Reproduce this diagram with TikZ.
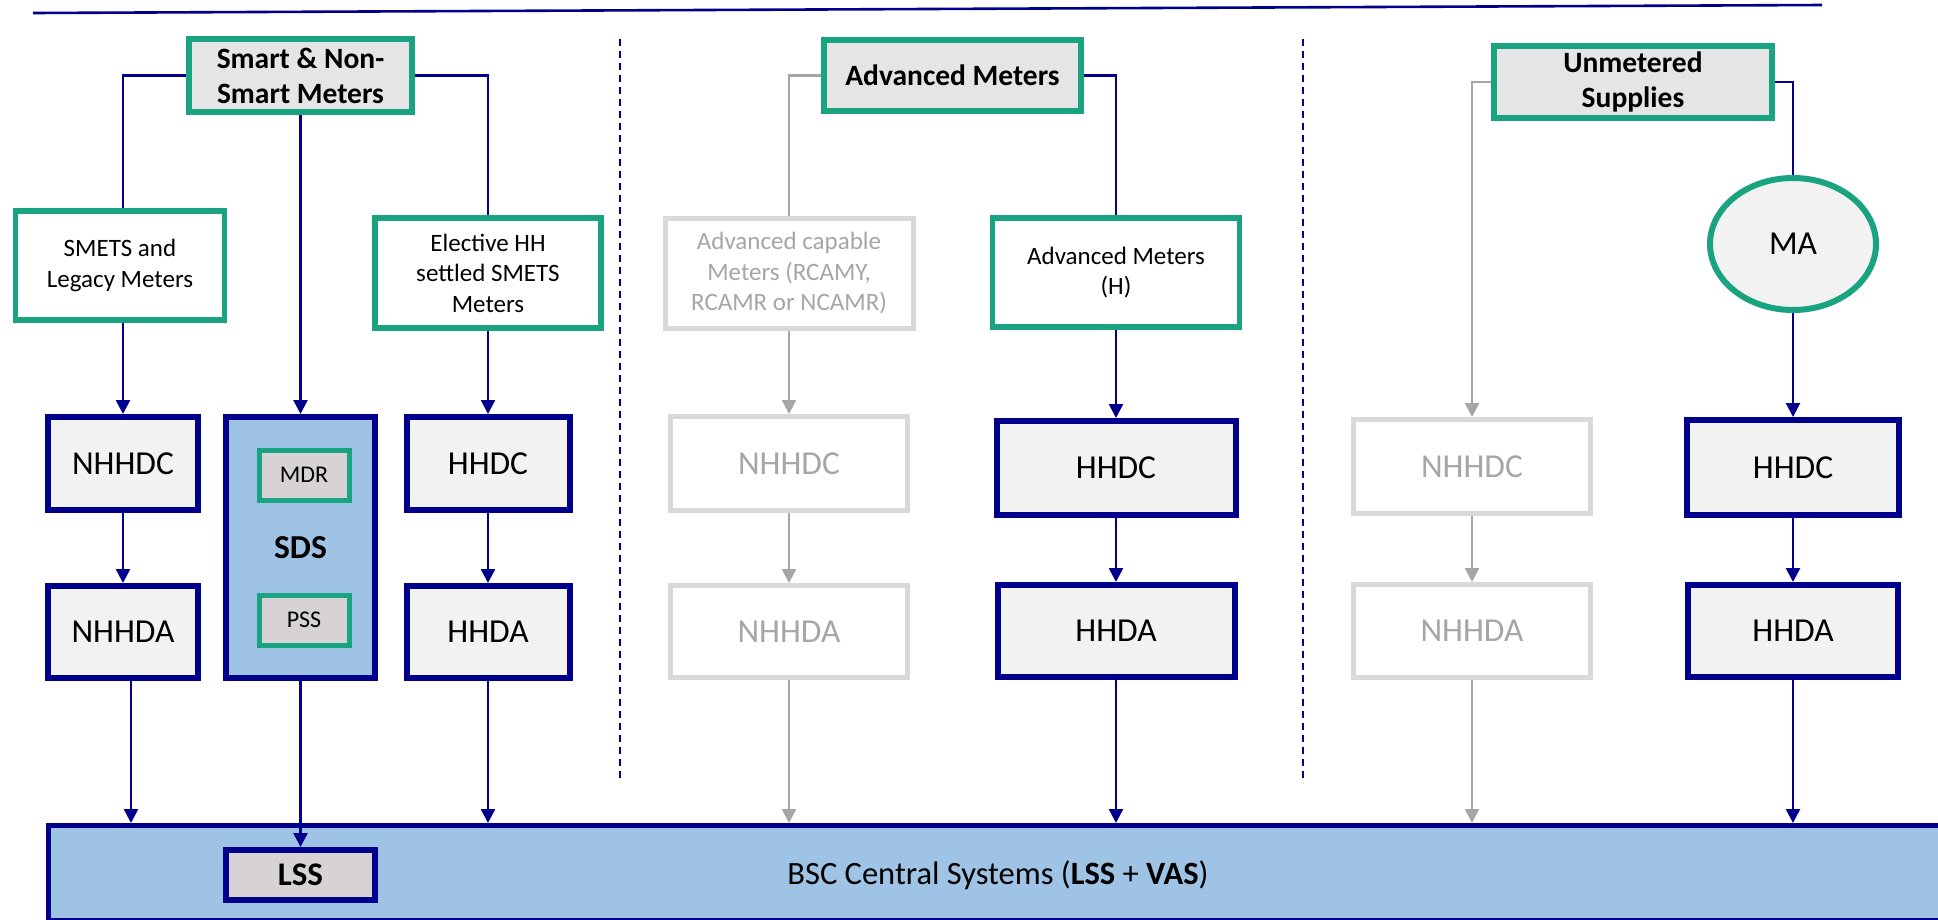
\documentclass[tikz,border=0pt]{standalone}
\usepackage{fontspec}
\setmainfont{Carlito}
\usetikzlibrary{arrows.meta,shapes.geometric}
\definecolor{navyc}{RGB}{0,0,140}
\definecolor{greenc}{RGB}{26,163,128}
\definecolor{boxfill}{RGB}{242,242,242}
\definecolor{titlefill}{RGB}{229,229,229}
\definecolor{subfill}{RGB}{214,210,214}
\definecolor{bluefill}{RGB}{159,195,228}
\definecolor{greyline}{RGB}{166,166,166}
\definecolor{greybox}{RGB}{217,217,217}
\definecolor{greytext}{RGB}{166,166,166}
\begin{document}
\begin{tikzpicture}[x=1pt,y=-1pt,
  title/.style={draw=greenc, line width=6pt, fill=titlefill, font=\fontsize{29.5}{35}\selectfont\bfseries, align=center, inner sep=0pt},
  meter/.style={draw=greenc, line width=5.5pt, fill=white, font=\fontsize{25}{30.5}\selectfont, align=center, inner sep=0pt},
  greymeter/.style={draw=greybox, line width=5pt, fill=white, text=greytext, font=\fontsize{25}{30.5}\selectfont, align=center, inner sep=0pt},
  agent/.style={draw=navyc, line width=6pt, fill=boxfill, font=\fontsize{33.5}{40}\selectfont, inner sep=0pt},
  greyagent/.style={draw=greybox, line width=5pt, fill=white, text=greytext, font=\fontsize{33.5}{40}\selectfont, inner sep=0pt},
  subbox/.style={draw=greenc, line width=5pt, fill=subfill, font=\fontsize{24}{29}\selectfont, inner sep=0pt},
  conn/.style={draw=navyc, line width=2.5pt},
  gconn/.style={draw=greyline, line width=2.5pt},
  arr/.style={-{Triangle[width=14pt,length=14pt]}},
  sep/.style={draw=navyc, line width=1.5pt, dash pattern=on 7pt off 5pt},
]
\useasboundingbox (0,0) rectangle (1938,919);
\clip (0,0) rectangle (1938,919);

% top rule
\coordinate (tl) at (33,13);
\coordinate (tr) at (1822,5);
\draw[navyc, line width=2.6pt] (tl) -- (tr);

% separators
\coordinate (s1a) at (620,39); \coordinate (s1b) at (620,783);
\coordinate (s2a) at (1303,39); \coordinate (s2b) at (1303,783);
\draw[sep] (s1a) -- (s1b);
\draw[sep] (s2a) -- (s2b);

% BSC central systems
\node[draw=navyc, line width=5pt, fill=bluefill, minimum width=1952pt, minimum height=95pt, inner sep=0pt] (bsc) at (1024,873) {};
\node[font=\fontsize{32.5}{39}\selectfont, anchor=base] (bsctext) at (998,884) {BSC Central Systems (\textbf{LSS} + \textbf{VAS})};
\node[agent, fill=subfill, font=\fontsize{33}{40}\selectfont\bfseries, minimum width=149pt, minimum height=50pt] (lss) at (300.5,875) {LSS};

% titles
\node[title, minimum width=223pt, minimum height=73pt] (smart) at (300.5,75.5) {Smart \& Non-\\Smart Meters};
\node[title, minimum width=257pt, minimum height=71pt] (adv) at (952.5,75.5) {Advanced Meters};
\node[title, minimum width=278pt, minimum height=72pt] (unm) at (1633,82) {Unmetered\\Supplies};

% meter types
\node[meter, minimum width=209pt, minimum height=109pt] (smets) at (120,265.5) {SMETS and\\Legacy Meters};
\node[meter, minimum width=226pt, minimum height=110pt] (elect) at (488,273) {Elective HH\\settled SMETS\\Meters};
\node[greymeter, minimum width=248pt, minimum height=110pt] (advcap) at (789,273.5) {Advanced capable\\Meters (RCAMY,\\RCAMR or NCAMR)};
\node[meter, minimum width=247pt, minimum height=109pt] (advh) at (1116,272.5) {Advanced Meters\\(H)};
\node[ellipse, draw=greenc, line width=6pt, fill=boxfill, minimum width=166pt, minimum height=132pt, inner sep=0pt, font=\fontsize{33.5}{40}\selectfont] (ma) at (1793,244) {MA};

% left column agents
\node[agent, minimum width=150pt, minimum height=93pt] (nhhdc1) at (123,463.5) {NHHDC};
\node[agent, minimum width=150pt, minimum height=92pt] (nhhda1) at (123,632) {NHHDA};
\node[agent, fill=bluefill, minimum width=149pt, minimum height=261pt] (sds) at (300.5,547.5) {};
\node[font=\fontsize{33.5}{40}\selectfont\bfseries] (sdstext) at (300.5,548) {SDS};
\node[subbox, minimum width=90pt, minimum height=50pt] (mdr) at (304,475) {MDR};
\node[subbox, minimum width=90pt, minimum height=50pt] (pss) at (304,620) {PSS};
\node[agent, minimum width=163pt, minimum height=93pt] (hhdc1) at (488,463.5) {HHDC};
\node[agent, minimum width=163pt, minimum height=92pt] (hhda1) at (488,632) {HHDA};

% middle column agents
\node[greyagent, minimum width=237pt, minimum height=94pt] (nhhdc2) at (789,463.5) {NHHDC};
\node[greyagent, minimum width=237pt, minimum height=92pt] (nhhda2) at (789,631.5) {NHHDA};
\node[agent, minimum width=239pt, minimum height=94pt] (hhdc2) at (1116,468) {HHDC};
\node[agent, minimum width=237pt, minimum height=92pt] (hhda2) at (1116,631) {HHDA};

% right column agents
\node[greyagent, minimum width=237pt, minimum height=94pt] (nhhdc3) at (1472,466.5) {NHHDC};
\node[greyagent, minimum width=237pt, minimum height=93pt] (nhhda3) at (1472,631) {NHHDA};
\node[agent, minimum width=212pt, minimum height=95pt] (hhdc3) at (1793,467.5) {HHDC};
\node[agent, minimum width=210pt, minimum height=92pt] (hhda3) at (1793,631) {HHDA};

% connectors: left section
\draw[conn] (smart.west) -| (nhhdc1.north |- smets.north);
\draw[conn] (smart.east) -| (elect.north);
\draw[conn,arr] (smart.south) -- (sds.north);
\draw[conn,arr] (nhhdc1.north |- smets.south) -- (nhhdc1.north);
\draw[conn,arr] (elect.south) -- (hhdc1.north);
\draw[conn,arr] (nhhdc1) -- (nhhda1);
\draw[conn,arr] (hhdc1) -- (hhda1);
\draw[conn,arr] ([xshift=8pt]nhhda1.south) -- ([xshift=8pt]nhhda1.south |- bsc.north);
\draw[conn,arr] (sds.south) -- (lss.north);
\draw[conn,arr] (hhda1.south) -- (hhda1.south |- bsc.north);

% connectors: middle section
\draw[gconn] (adv.west) -| (advcap.north);
\draw[gconn,arr] (advcap) -- (nhhdc2);
\draw[gconn,arr] (nhhdc2) -- (nhhda2);
\draw[gconn,arr] (nhhda2.south) -- (nhhda2.south |- bsc.north);
\draw[conn] (adv.east) -| (advh.north);
\draw[conn,arr] (advh) -- (hhdc2);
\draw[conn,arr] (hhdc2) -- (hhda2);
\draw[conn,arr] (hhda2.south) -- (hhda2.south |- bsc.north);

% connectors: right section
\draw[gconn,arr] (unm.west) -| (nhhdc3.north);
\draw[gconn,arr] (nhhdc3) -- (nhhda3);
\draw[gconn,arr] (nhhda3.south) -- (nhhda3.south |- bsc.north);
\draw[conn] (unm.east) -| (ma.north);
\draw[conn,arr] (ma) -- (hhdc3);
\draw[conn,arr] (hhdc3) -- (hhda3);
\draw[conn,arr] (hhda3.south) -- (hhda3.south |- bsc.north);
\end{tikzpicture}
\end{document}
